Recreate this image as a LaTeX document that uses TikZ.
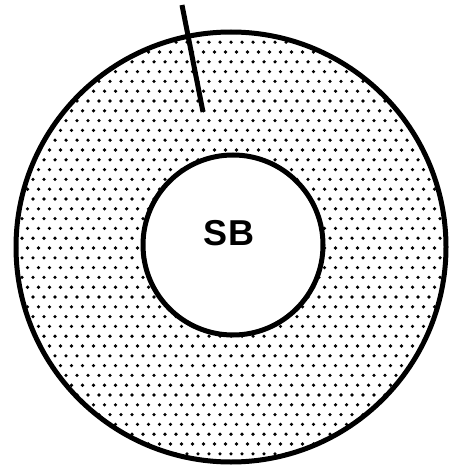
\documentclass[tikz,border=0pt]{standalone}
\usepackage{fontspec}
\setmainfont{Liberation Sans}
\begin{document}
\begin{tikzpicture}[x=1pt,y=-1pt,
  ring/.style={circle,draw=black,line width=5pt,inner sep=0pt},
  dotfill/.style={fill=black},
  label/.style={font=\fontsize{36}{38}\selectfont\bfseries,inner sep=0pt}]
\useasboundingbox (0,0) rectangle (448,465);
\begin{scope}
  \clip (231,247) circle (215pt);
  \foreach \j in {0,...,47}{
    \foreach \i in {0,...,41}{
      \pgfmathsetmacro{\xx}{\i*11+mod(\j,2)*5.5}
      \pgfmathsetmacro{\yy}{\j*9.8+3}
      \fill[dotfill] (\xx,\yy) circle (1.8pt);
    }
  }
\end{scope}
\node[ring,minimum size=430pt] (outer) at (231,247) {};
\node[ring,fill=white,minimum size=180pt] (inner) at (233,245) {};
\node[label] (sb) at (229,233) {SB};
\coordinate (stickTop) at (182,5);
\coordinate (stickBot) at (203,112);
\draw[line width=5pt] (stickTop) -- (stickBot);
\end{tikzpicture}
\end{document}
